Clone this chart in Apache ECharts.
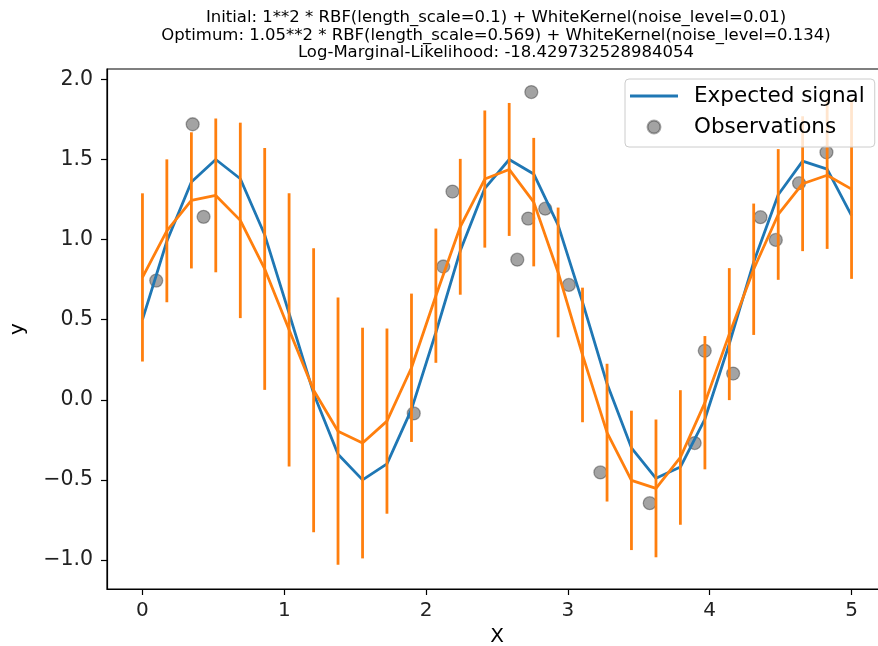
<!DOCTYPE html>
<html><head><meta charset="utf-8">
<script src="https://cdn.jsdelivr.net/npm/echarts@6/dist/echarts.min.js"></script>
<style>html,body{margin:0;padding:0;background:#fff}#c{width:878px;height:646px}</style>
</head><body><div id="c"></div>
<script>
// ---- data ----
const gridX = [0, 0.172, 0.345, 0.517, 0.690, 0.862, 1.034, 1.207, 1.379, 1.552,
  1.724, 1.897, 2.069, 2.241, 2.414, 2.586, 2.759, 2.931, 3.103, 3.276,
  3.448, 3.621, 3.793, 3.966, 4.138, 4.310, 4.483, 4.655, 4.828, 5.0];
const expectedSignal = [0.50, 0.99, 1.36, 1.50, 1.38, 1.03, 0.54, 0.04, -0.34, -0.50,
  -0.40, -0.06, 0.42, 0.93, 1.32, 1.50, 1.41, 1.09, 0.61, 0.10,
  -0.30, -0.49, -0.42, -0.12, 0.35, 0.86, 1.28, 1.49, 1.44, 1.15];
const predMean = [0.764, 1.055, 1.245, 1.276, 1.12, 0.817, 0.437, 0.06, -0.196, -0.27,
  -0.133, 0.20, 0.65, 1.08, 1.378, 1.438, 1.234, 0.795, 0.28, -0.205,
  -0.503, -0.553, -0.36, -0.018, 0.41, 0.815, 1.157, 1.349, 1.402, 1.315];
const predStd = [0.525, 0.446, 0.425, 0.48, 0.61, 0.755, 0.853, 0.886, 0.834, 0.72,
  0.578, 0.463, 0.419, 0.424, 0.428, 0.415, 0.401, 0.405, 0.42, 0.43,
  0.435, 0.43, 0.42, 0.416, 0.412, 0.41, 0.408, 0.421, 0.46, 0.56];
const obsX = [0.097, 0.354, 0.431, 1.913, 2.121, 2.186, 2.643, 2.72, 2.742, 2.84,
  3.007, 3.229, 3.577, 3.894, 3.965, 4.165, 4.358, 4.466, 4.63, 4.823];
const obsY = [0.744, 1.72, 1.142, -0.085, 0.832, 1.30, 0.875, 1.131, 1.921, 1.193,
  0.717, -0.453, -0.645, -0.27, 0.306, 0.164, 1.14, 0.998, 1.352, 1.545];
const xTicks = [0, 1, 2, 3, 4, 5];
const yTicks = [-1.0, -0.5, 0.0, 0.5, 1.0, 1.5, 2.0];
const titleLines = [
  'Initial: 1**2 * RBF(length_scale=0.1) + WhiteKernel(noise_level=0.01)',
  'Optimum: 1.05**2 * RBF(length_scale=0.569) + WhiteKernel(noise_level=0.134)',
  'Log-Marginal-Likelihood: -18.429732528984054'
];

const FONT = 'DejaVu Sans';
const chart = echarts.init(document.getElementById('c'), null, {renderer: 'canvas'});
const axisCommon = {
  type: 'value',
  nameLocation: 'middle',
  nameTextStyle: {fontFamily: FONT, fontSize: 20, color: '#000'},
  axisLine: {show: true, onZero: false, lineStyle: {color: '#000', width: 1.2}},
  splitLine: {show: false},
  minorTick: {show: false}
};
const option = {
  animation: false,
  backgroundColor: '#fff',
  title: {
    text: titleLines.join('\n'), left: 496, top: 9, textAlign: 'center', padding: 0,
    textStyle: {fontFamily: FONT, fontSize: 16.5, fontWeight: 'normal', color: '#000', lineHeight: 17.5}
  },
  grid: {left: 107, top: 69, right: -9, bottom: 57, show: true, borderColor: '#000', borderWidth: 1.2,
    backgroundColor: 'transparent', containLabel: false, outerBoundsMode: 'none'},
  legend: {
    orient: 'vertical', left: 625, top: 79, selectedMode: false,
    data: [
      {name: 'Expected signal', icon: 'path://M0,0H48V3H0Z', itemStyle: {borderWidth: 0}},
      {name: 'Observations', icon: 'circle'}
    ],
    itemWidth: 48, itemHeight: 13, itemGap: 9, padding: [6, 10, 9, 5],
    backgroundColor: 'rgba(255,255,255,0.8)', borderColor: '#cccccc', borderWidth: 1, borderRadius: 4,
    textStyle: {fontFamily: FONT, fontSize: 21.5, color: '#000', lineHeight: 20, padding: [0, 0, 0, 11]}
  },
  xAxis: Object.assign({}, axisCommon, {
    min: -0.25, max: 5.25, name: 'X', nameGap: 38,
    axisTick: {show: true, customValues: xTicks, length: 6, lineStyle: {color: '#000', width: 1.2}},
    axisLabel: {customValues: xTicks, margin: 12, fontFamily: FONT, fontSize: 20, color: '#222',
      formatter: v => String(v)}
  }),
  yAxis: Object.assign({}, axisCommon, {
    min: -1.181, max: 2.065, name: 'y', nameGap: 79, nameRotate: 90,
    axisTick: {show: true, customValues: yTicks, length: 6, lineStyle: {color: '#000', width: 1.2}},
    axisLabel: {customValues: yTicks, margin: 14, fontFamily: FONT, fontSize: 20.5, color: '#222',
      formatter: v => (v < 0 ? '\u2212' : '') + Math.abs(v).toFixed(1)}
  }),
  series: [
    {
      name: 'Observations', type: 'scatter', z: 1,
      data: obsX.map((x, i) => [x, obsY[i]]),
      symbolSize: 13,
      itemStyle: {color: 'rgba(0,0,0,0.45)', borderColor: 'rgba(0,0,0,0.4)', borderWidth: 1.3}
    },
    {
      name: 'Expected signal', type: 'line', z: 2, symbol: 'none',
      data: gridX.map((x, i) => [x, expectedSignal[i]]),
      lineStyle: {color: '#1f77b4', width: 2.8},
      itemStyle: {color: '#1f77b4'}
    },
    {
      name: 'errbar', type: 'custom', z: 3,
      data: gridX.map((x, i) => [x, predMean[i] - predStd[i], predMean[i] + predStd[i]]),
      encode: {x: 0, y: [1, 2]},
      renderItem: (params, api) => {
        const p0 = api.coord([api.value(0), api.value(1)]);
        const p1 = api.coord([api.value(0), api.value(2)]);
        return {type: 'line', shape: {x1: p0[0], y1: p0[1], x2: p1[0], y2: p1[1]},
          style: {stroke: '#ff7f0e', lineWidth: 2.8}};
      }
    },
    {
      name: 'mean', type: 'line', z: 3, symbol: 'none',
      data: gridX.map((x, i) => [x, predMean[i]]),
      lineStyle: {color: '#ff7f0e', width: 2.8},
      itemStyle: {color: '#ff7f0e'}
    }
  ]
};
chart.setOption(option);
</script></body></html>
